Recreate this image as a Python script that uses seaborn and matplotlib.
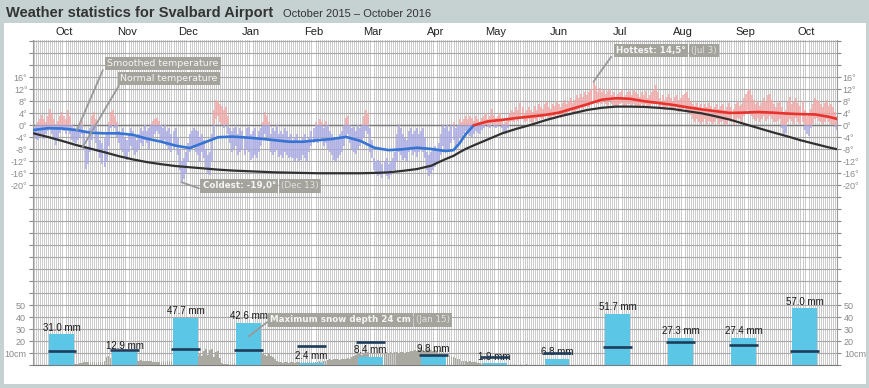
import numpy as np
import pandas as pd
import matplotlib
matplotlib.use("Agg")
import matplotlib.pyplot as plt
import matplotlib.dates as mdates
import seaborn as sns
from matplotlib.patches import Rectangle

# ── data ────────────────────────────────────────────────────
start = pd.Timestamp("2015-10-01")

# daily max / min temperature (°C), Oct 2015 .. Oct 2016, one line per month
t_high = [
    -1, 0, 1, 2, 3.5, 2, 1, 3, 5.5, 4, 2, 0.5, 1.5, 3, 4.5, 3, 2, 5, 3, 0, -1, -2, -1, 0, 1.5, -2, -7, -8, -1, 3, 4.5,
    2, -3, -5, -6, -4, -3, 1, 4.5, 5, 3, 1, -2, -3, -1, -4, -5, -3, -1, -2, -4, -5, -3, -1, -2, 0, -2, -1, 0.5, 1.5, 2,
    2.5, 1.5, 0, -1, 0.5, -2, -1, -3, -2, -1, -4, -8, -12, -11, -9, -6, -3, -2, -1, -1.5, -2, -4, -3, -5, -8, -10, -9, -3, 5, 8.5, 8,
    7, 6.5, 5, 6, 3, -1, -2, -1, -0.5, -3, -1, -2, -4, -1, -0.5, -3, -2, -1, -4, -2, -1, 1, 4.5, 3, 1, -3, -1, -2, 0.5, -3, -2,
    -3, -1, -2, -4, -3, -5, -4, -3, -5, -6, -4, -3, -5, -4, -2, -1, 1, 0, 2, 1, -1, 1.5, 0, -2, -3, -4, -5, -4, -3,
    -2, 0, 2.5, 3, 0, -1, -0.5, -2, 0, -1, 0.5, 3, 5, 4, -1, -5, -11, -12, -11.5, -12, -13, -12, -11, -13, -12, -11, -9, -3, 0.5, -1, -3,
    -4, -5, -2, -1, -3, -2, -1, -3, -2, -1, -4, -9, -10, -9, -8, -7, -8, -6, -3, 0.5, -1, 0, -2, 0.5, 1, -1, 0, 2, 1, 2,
    3, 2, 3, 2.5, 1.5, 3, 2, 1, 2.5, 3, 4, 2, 3, 5.5, 3.5, 2.5, 3, 4, 2, 0.5, 1, 2, 4, 5, 4.5, 6, 5, 7.5, 6, 4, 5,
    6, 5, 4.5, 6.5, 5, 7, 6, 5.5, 7, 8, 6, 5.5, 7, 6.5, 8, 7, 6, 7.5, 8.5, 7, 8, 9, 7.5, 8.5, 10, 9, 10.5, 9.5, 11, 10,
    11, 12, 14.5, 13, 11, 12.5, 11, 12, 10.5, 11.5, 12, 10, 11, 9.5, 10.5, 11, 12, 9.5, 10, 11, 11.5, 10, 12, 11, 10.5, 9.5, 11, 10, 11.5, 9, 10,
    11, 12, 13.5, 11, 9, 10, 8.5, 9.5, 10.5, 9, 8, 9.5, 10, 8.5, 9, 10, 10.5, 11, 9, 8, 7, 6.5, 7.5, 6, 7, 5.5, 7, 6, 7.5, 6.5, 5,
    6, 7, 5.5, 6.5, 7, 5, 6, 7.5, 6, 5.5, 7, 8, 6.5, 7, 9, 10.5, 11.5, 12, 10, 8.5, 7, 8, 6.5, 7.5, 9, 8, 10, 10.5, 8.5, 7,
    6, 7.5, 8, 6, 4, 5, 8, 9.5, 7, 8, 9, 7.5, 6.5, 8, 5, 3, 4, 5.5, 7, 9, 8.5, 8, 7, 6, 7.5, 8.5, 6.5, 7, 6, 4.5, 3,
]
t_low = [
    -4, -4.5, -5, -4, -3, -4.5, -3, -2, -1, -3, -5, -6.5, -5, -2.5, -1, -2, -3, -1.5, -3, -5, -5.5, -6, -5, -4, -3, -8, -14.5, -13, -9, -5, -2,
    -6, -9, -11, -13, -14, -12, -7, -1, 0.5, -1, -4, -6, -8, -9, -10.5, -11.5, -9, -7, -8, -10, -9, -8, -6, -7, -5, -6, -8, -5, -4, -3,
    -2, -3, -5, -6, -5, -7, -8, -9, -8, -7, -10, -15, -19, -18, -16, -12, -9, -8, -7, -9, -10, -12, -9, -11, -14, -16, -16.5, -12, -4, 2, 3,
    1, 0, -1, 0.5, -3, -6, -9, -8, -7, -10, -9, -8, -10, -8, -9, -11.5, -11, -10, -11, -9, -7, -5, -3, -4, -5, -9, -10, -9, -8, -10.5, -10,
    -11, -9, -10, -11, -10.5, -11, -12, -11, -12, -11.5, -10, -11, -12, -9, -7, -6, -5, -6, -4, -5, -7, -6, -8, -9, -10, -11.5, -12, -11, -10,
    -9, -7, -4, -3, -6, -8, -9, -9.5, -8, -7, -6, -4, -2, -3, -9, -11, -15, -16, -17, -16.5, -17.5, -16, -17, -18, -16.5, -15, -15, -12, -9, -10, -11.5,
    -11, -12, -9, -8, -10, -9, -10.5, -9, -8, -9, -11, -15, -17, -16, -15, -14, -13, -12, -10, -7, -9, -8, -9, -6, -5, -7, -6, -4, -5, -3,
    -2, -3, -3.5, -4, -3, -2, -2.5, -3, -1.5, -1, 0, -0.5, -1, 0.5, -0.5, -1, -0.5, 0, -1, -2.5, -3, -1, 1, 1.5, 1, 2, 1.5, 2.5, 2, 1, 1.5,
    2, 1, 0.5, 2, 1.5, 3, 2.5, 2, 3, 3.5, 2, 2.5, 3, 3, 4, 3.5, 2.5, 3, 4, 4, 4.5, 5, 4, 4.5, 5, 5.5, 6, 5.5, 6, 6.5,
    6, 7, 8, 8, 7, 7.5, 7, 8, 7, 6.5, 8, 7, 6.5, 6, 6.5, 7, 7.5, 6, 6.5, 7, 7, 6.5, 7, 6, 6.5, 6, 7, 6.5, 7, 6, 6.5,
    7, 7, 8, 7, 6, 6, 5, 6, 6.5, 5.5, 5, 5, 6, 4.5, 5, 5.5, 6, 5, 4, 3.5, 2, 1, 2, 1, 0.5, 1, 2, 0.5, 1.5, 1, 0.5,
    1, 2, 0.5, 1, 1.5, 0, 0.5, 2, 1, 0, 1.5, 2.5, 2, 1, 3, 4, 5, 4.5, 3, 2, 1.5, 2.5, 1, 2, 3, 1.5, 2, 3, 2, 1,
    1, 1.5, 2, -1, -3, -2.5, 1, 2, 1.5, 0.5, 2.5, 1, 0.5, 1, -1.5, -3, -3.5, -1, 0.5, 2, 2.5, 1.5, 1, 0.5, 1, 2, 1, 0.5, 0, -0.5, -1.5,
]

# smoothed and normal temperature, read about once a week (day offset from start)
curve_days = [0, 7, 14, 21, 28, 35, 42, 49, 56, 63, 70, 77, 84, 91, 98, 105, 112, 119, 126, 133,
              140, 147, 154, 161, 168, 175, 182, 189, 196, 203, 207, 210, 213, 217, 224, 231, 238, 245,
              252, 259, 266, 273, 280, 287, 294, 301, 308, 315, 322, 329, 336, 343, 350, 357, 364, 371,
              378, 385, 392, 396]
smooth_temp = [-1.6, -1.0, -1.1, -1.6, -2.5, -2.7, -2.7, -3.2, -4.5, -5.5, -6.8, -7.6, -5.8, -4.0, -3.8,
               -4.1, -4.5, -5.0, -5.5, -5.5, -5.0, -4.6, -3.9, -5.2, -7.5, -8.3, -8.0, -7.5, -7.9, -8.6,
               -8.3, -6.0, -3.0, 0.0, 1.3, 1.8, 2.4, 2.9, 3.4, 4.2, 5.6, 7.0, 8.5, 9.0, 8.8, 8.0, 7.4,
               6.8, 6.0, 5.3, 4.7, 4.1, 4.2, 4.4, 4.2, 3.9, 3.7, 3.6, 2.8, 2.1]
normal_temp = [-2.7, -3.9, -5.2, -6.6, -7.8, -9.0, -10.3, -11.4, -12.3, -13.0, -13.6, -14.0, -14.4, -14.8,
               -15.1, -15.3, -15.5, -15.7, -15.8, -15.9, -16.0, -16.0, -16.0, -16.0, -15.9, -15.7, -15.2,
               -14.6, -13.5, -11.3, -10.2, -9.0, -7.9, -6.7, -4.7, -2.7, -1.2, 0.1, 1.6, 2.9, 4.0, 5.1,
               5.8, 6.2, 6.2, 6.1, 5.8, 5.4, 4.7, 4.0, 3.0, 1.9, 0.5, -0.9, -2.3, -3.6, -5.0, -6.2, -7.4, -8.0]

# monthly precipitation (mm) and normal precipitation (mm)
month_labels = ["Oct", "Nov", "Dec", "Jan", "Feb", "Mar", "Apr", "May", "Jun", "Jul", "Aug", "Sep", "Oct"]
precip_mm = [31.0, 12.9, 47.7, 42.6, 2.4, 8.4, 9.8, 1.9, 6.8, 51.7, 27.3, 27.4, 57.0]
precip_normal = [14, 15, 16, 15, 19, 23, 10, 8, 12, 18, 23, 20, 14]

# daily snow depth (cm) from Oct 21 2015
snow_start = pd.Timestamp("2015-10-21")
snow_cm = [
    1, 1.5, 1, 2, 2, 3, 2.5, 3, 2, 3, 2.5, 2, 3, 2.5, 3, 4, 7, 7.5, 6,
    4, 3.5, 3, 3, 2.5, 3, 2.5, 2, 3, 3.5, 3, 4, 3.5,
    4, 4.5, 4, 3.5, 3.5, 4, 3.5, 3, 3, 3, 2.5, 3, 3.5, 3, 3.5, 4,
    4, 4, 5, 4.5, 5, 5, 4.5, 5, 5, 5.5, 5, 6, 7, 8,
    10, 8, 12, 14, 9, 13, 14, 7, 11, 12, 6, 2, 1, 1, 1.5, 1, 1, 2, 4,
    8, 12, 16, 20, 22, 24, 22, 20, 18, 16, 14, 12, 10, 9, 8, 10, 8, 7, 5, 4,
    3, 2.5, 2, 3, 2.5, 2, 3, 2.5, 2, 3, 2.5,
    3, 3, 2.5, 3, 3.5, 3, 2.5, 3, 3, 3.5, 3, 3.5, 4,
    4.5, 5, 4.5, 5, 5.5, 5, 4.5, 5, 5.5, 5, 6, 5.5, 7, 8,
    9, 10, 10, 9, 10, 10, 11, 10, 10, 11, 10, 10, 11, 10, 10.5, 11,
    10, 11, 10, 11, 11.5, 10, 11, 11, 10.5, 11, 11.5, 12, 12, 13, 12,
    13, 14, 13, 12, 13, 14, 13, 12, 13, 12, 13, 12, 11, 10, 9,
    8, 7, 7, 6, 5, 5, 4, 4, 3.5, 3, 3.5, 3,
    3, 2.5, 2, 2, 1.5, 2, 1.5, 2, 1.5, 1, 1.5, 1, 1, 1, 1.5, 1, 0.5, 0.5,
    1, 0.5, 1, 0.5, 0.5, 1, 0.5, 0.5, 1, 0.5, 0.5, 0.5, 0.5, 0.5, 0.5,
]

# ── style ───────────────────────────────────────────────────
sns.set_theme(style="white")
plt.rcParams["font.family"] = ["Liberation Sans", "DejaVu Sans"]

BG = "#c6d2d2"
PINK = "#f2a6a6"
LAV = "#a9a9e6"
BLUE = "#3574d2"
RED = "#e8332c"
BAR = "#5cc6e6"
NAVY = "#1d3d5c"
SNOW = "#a9a9a1"
TAG = "#a4a49c"
TICK = "#8a8a8a"

days = pd.date_range(start, periods=len(t_high), freq="D")
hi = np.array(t_high)
lo = np.array(t_low)
cdates = start + pd.to_timedelta(curve_days, unit="D")
smooth = np.array(smooth_temp)
months = pd.date_range(start, periods=len(month_labels), freq="MS")
bar_x = months + pd.Timedelta(days=14)
snow_days = pd.date_range(snow_start, periods=len(snow_cm), freq="D")


def day(n):
    return start + pd.Timedelta(days=n)


fig = plt.figure(figsize=(8.7, 3.88), dpi=100, facecolor=BG)
fig.patches.append(Rectangle((4 / 870, 4 / 388), 862 / 870, 361 / 388,
                             transform=fig.transFigure, facecolor="white",
                             edgecolor="none", zorder=-1))
fig.text(6 / 870, 1 - 13 / 388, "Weather statistics for Svalbard Airport",
         fontsize=10.5, fontweight="bold", color="#333333", va="center")
fig.text(283 / 870, 1 - 14 / 388, "October 2015 \u2013 October 2016",
         fontsize=8, color="#333333", va="center")

ax = fig.add_axes([33 / 870, 22.7 / 388, 804 / 870, 325.3 / 388])
ax_s = ax.twinx()   # snow depth (cm)
ax_p = ax.twinx()   # precipitation (mm)

ax.set_xlim(day(-0.25), day(394.8))
ax.set_ylim(-80, 28.4)
ax_s.set_ylim(0, 325.3 / 1.2)
ax_p.set_ylim(0, 325.3)

# grid
ax.set_axisbelow(True)
ax.set_xticks(days, minor=True)
ax.xaxis.grid(True, which="minor", color="#cbcbcb", lw=0.4, antialiased=False)
ax.xaxis.grid(False, which="major")
temp_ticks = np.arange(-80, 29, 4)
ax.set_yticks(temp_ticks)
ax.set_yticklabels([f"{t}\u00b0" if -20 <= t <= 16 else "" for t in temp_ticks])
ax.yaxis.grid(True, color="#a8a8a8", lw=0.8)
ax.axhline(0, color="#7a7a7a", lw=1.0, zorder=1.5)

# daily temperature range, red above 0, blue below
up = hi > 0
ax.vlines(days[up], np.maximum(lo[up], 0), hi[up], color=PINK, lw=1.1, zorder=2)
dn = lo < 0
ax.vlines(days[dn], lo[dn], np.minimum(hi[dn], 0), color=LAV, lw=1.1, zorder=2)

# normal and smoothed temperature
sns.lineplot(x=cdates, y=np.array(normal_temp), ax=ax, color="#303030", lw=1.6, zorder=3)
cold = smooth <= 0
warm = smooth >= 0
sns.lineplot(x=cdates[cold], y=smooth[cold], ax=ax, color=BLUE, lw=1.9, zorder=4)
sns.lineplot(x=cdates[warm], y=smooth[warm], ax=ax, color=RED, lw=1.9, zorder=4)
ax.set_xlabel("")
ax.set_ylabel("")

# snow depth
ax_s.bar(snow_days, snow_cm, width=0.8, color=SNOW, edgecolor="none", lw=0, zorder=2)
ax_s.set_yticks([10, 20, 30, 40, 50])
ax_s.set_yticklabels(["10cm", "20", "30", "40", "50"])

# precipitation
ax_p.bar(bar_x, precip_mm, width=12.3, color=BAR, edgecolor="none", lw=0, zorder=2)
for x, p in zip(bar_x, precip_mm):
    ax_p.text(x, p + 1.5, f"{p:.1f} mm", ha="center", va="bottom",
              fontsize=7, color="#1a1a1a", zorder=3)
ax_p.hlines(precip_normal, bar_x - pd.Timedelta(days=7.1), bar_x + pd.Timedelta(days=7.1),
            color=NAVY, lw=1.9, zorder=4)
ax_p.set_yticks([])

# month labels on top
ax.set_xticks(months + pd.Timedelta(days=15))
ax.set_xticklabels(month_labels)
ax.tick_params(axis="x", which="both", bottom=False, top=False, length=0,
               labelbottom=False, labeltop=True, labelsize=8, labelcolor="#222222", pad=2.5)
ax.tick_params(axis="y", left=True, right=True, labelleft=True, labelright=True,
               length=3, width=0.8, color="#8a8a8a", labelsize=6.5,
               labelcolor=TICK, pad=1)
ax_s.tick_params(axis="y", left=False, right=False, labelleft=True, labelright=True,
                 length=0, labelsize=6.5, labelcolor=TICK, pad=5)

for a in (ax, ax_s, ax_p):
    a.spines["top"].set_visible(False)
for a in (ax_s, ax_p):
    for s in a.spines.values():
        s.set_visible(False)
ax.spines["left"].set_color("#999999")
ax.spines["right"].set_color("#999999")
ax.spines["bottom"].set_color("#7a7a7a")
for s in ("left", "right", "bottom"):
    ax.spines[s].set_linewidth(0.8)

# ── annotations ─────────────────────────────────────────────
line_kw = dict(arrowstyle="-", color="#999999", lw=1.3, shrinkA=0, shrinkB=0)
box = dict(boxstyle="square,pad=0.25", facecolor=TAG, edgecolor="none")


def tag(axis, x, y, bold, light=None, size=6.3):
    t1 = axis.text(x, y, bold, fontsize=size, family="DejaVu Sans",
                   fontweight="bold" if light else "normal", color="#f5f5f5",
                   va="center", ha="left", bbox=box, zorder=11)
    if light:
        axis.annotate(light, xy=(1, 0.5), xycoords=t1, xytext=(3.5, 0),
                      textcoords="offset points", fontsize=size, family="DejaVu Sans",
                      color="#e2e2e2", va="center", ha="left", bbox=box, zorder=10)
    return t1


ax.annotate("", xy=(day(21.4), -1.6), xytext=(day(34.2), 18.4), arrowprops=line_kw, zorder=6)
ax.annotate("", xy=(day(24.3), -7.2), xytext=(day(42.0), 13.1), arrowprops=line_kw, zorder=6)
tag(ax, day(36.4), 20.6, "Smoothed temperature", size=6.8)
tag(ax, day(42.8), 15.6, "Normal temperature", size=6.8)

ax.annotate("", xy=(day(73), -19.0), xytext=(day(81.5), -21.0), arrowprops=line_kw, zorder=6)
tag(ax, day(83.3), -20.2, "Coldest: -19,0\u00b0", "(Dec 13)")

ax.annotate("", xy=(day(276), 14.5), xytext=(day(284.7), 22.8), arrowprops=line_kw, zorder=6)
tag(ax, day(287.2), 24.8, "Hottest: 14,5\u00b0", "(Jul 3)")

# snow pointer is given in snow-axis units but drawn above the precipitation bars
ax_p.annotate("", xy=(mdates.date2num(day(106)), 24), xycoords=ax_s.transData,
              xytext=(mdates.date2num(day(115.2)), 36), textcoords=ax_s.transData,
              arrowprops=line_kw, zorder=6)
tag(ax_p, day(116.7), 45.3, "Maximum snow depth 24 cm", "(Jan 15)")

fig.savefig("out.png", dpi=100, facecolor=BG)
